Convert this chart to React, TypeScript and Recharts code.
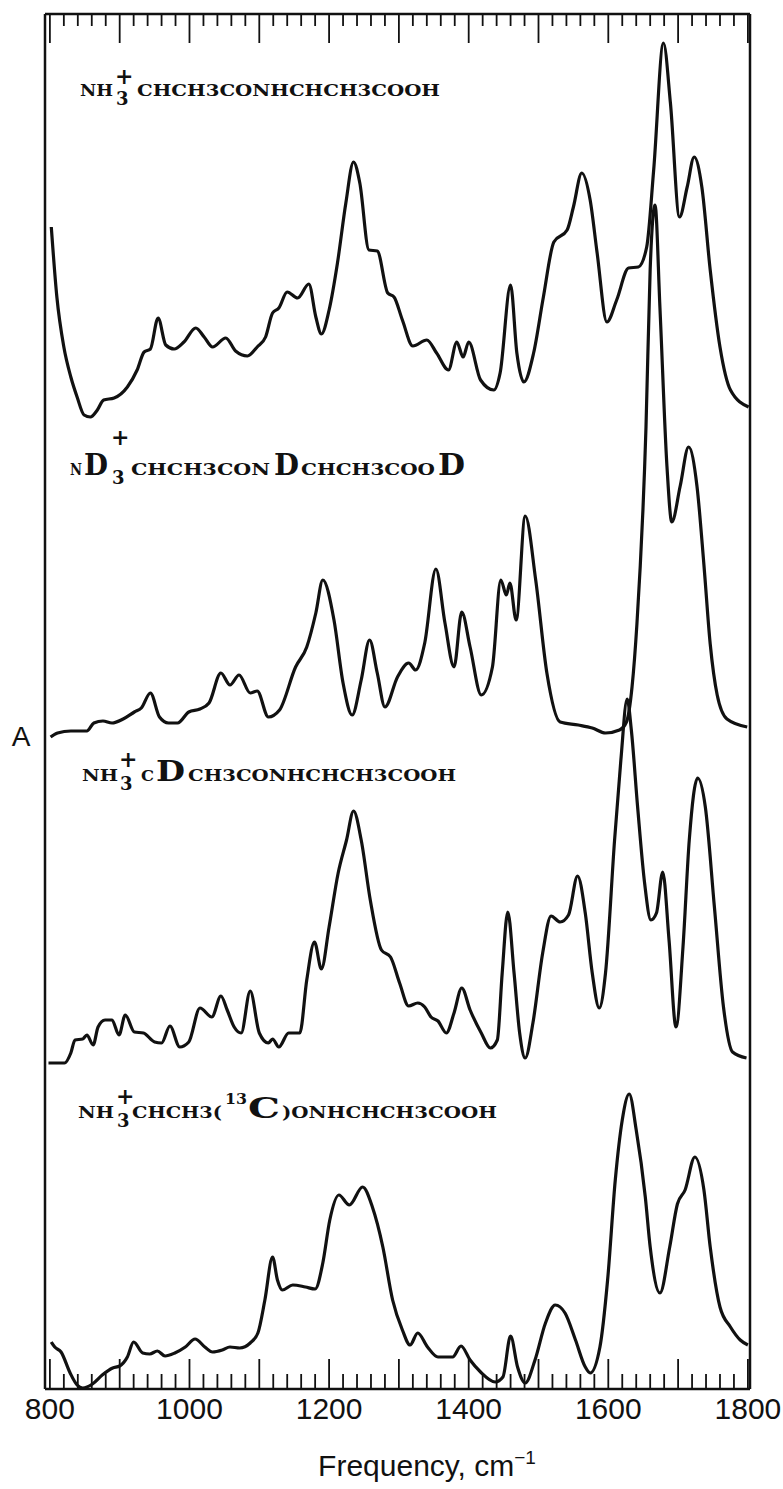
import React from 'react';
import { LineChart, Line, XAxis, YAxis } from 'recharts';

const W = 783;
const H = 1489;
const SERIF = '"DejaVu Serif", serif';
const SANS = '"Liberation Sans", Arial, sans-serif';

// wavenumber axis (cm-1)
const LABEL_TICKS = [800, 1000, 1200, 1400, 1600, 1800];
const MAJOR_TICKS = [800, 900, 1000, 1100, 1200, 1300, 1400, 1500, 1600, 1700, 1800];
const MINOR_TICKS = Array.from({ length: 51 }, (_, i) => 800 + i * 20);

// stacked absorbance, arbitrary units
// NH3+CHCH3CONHCHCH3COOH
const alaFreq = [802, 810, 820, 830, 839, 849, 858, 868, 877, 892, 911, 925, 935, 944, 955, 966, 978, 992, 1009, 1021, 1033, 1052, 1066, 1083, 1097, 1109, 1119, 1128, 1140, 1155, 1171, 1181, 1189, 1200, 1212, 1224, 1235, 1244, 1257, 1269, 1284, 1293, 1305, 1320, 1340, 1354, 1371, 1383, 1392, 1400, 1417, 1436, 1445, 1460, 1469, 1479, 1493, 1507, 1522, 1541, 1550, 1562, 1574, 1584, 1598, 1612, 1629, 1643, 1655, 1665, 1679, 1689, 1702, 1713, 1723, 1734, 1746, 1760, 1775, 1801];
const alaAbs = [11.62, 10.92, 10.42, 10.12, 9.92, 9.74, 9.72, 9.79, 9.89, 9.91, 10.02, 10.19, 10.37, 10.4, 10.71, 10.44, 10.4, 10.47, 10.61, 10.52, 10.42, 10.51, 10.38, 10.33, 10.42, 10.52, 10.76, 10.81, 10.97, 10.91, 11.05, 10.72, 10.55, 10.79, 11.26, 11.86, 12.27, 12.06, 11.39, 11.38, 10.96, 10.92, 10.69, 10.43, 10.49, 10.36, 10.19, 10.47, 10.32, 10.47, 10.09, 9.99, 10.16, 11.04, 10.36, 10.07, 10.36, 10.92, 11.47, 11.59, 11.82, 12.16, 11.89, 11.36, 10.67, 10.89, 11.21, 11.22, 11.42, 12.19, 13.46, 12.86, 11.72, 12.02, 12.32, 12.02, 11.19, 10.42, 9.99, 9.82];

// ND3+CHCH3CONDCHCH3COOD
const nd3Freq = [801, 811, 830, 853, 863, 876, 889, 905, 921, 931, 944, 957, 970, 983, 999, 1015, 1028, 1045, 1058, 1071, 1087, 1097, 1113, 1129, 1152, 1168, 1181, 1191, 1207, 1220, 1233, 1246, 1258, 1269, 1280, 1298, 1314, 1324, 1337, 1353, 1366, 1379, 1390, 1402, 1418, 1434, 1446, 1454, 1459, 1468, 1481, 1496, 1512, 1531, 1557, 1577, 1596, 1616, 1626, 1634, 1641, 1654, 1660, 1667, 1674, 1684, 1691, 1703, 1715, 1727, 1737, 1746, 1756, 1770, 1799];
const nd3Abs = [6.52, 6.56, 6.58, 6.58, 6.66, 6.68, 6.66, 6.7, 6.77, 6.81, 6.96, 6.72, 6.66, 6.66, 6.77, 6.8, 6.86, 7.16, 7.04, 7.14, 6.96, 6.98, 6.72, 6.79, 7.22, 7.42, 7.76, 8.09, 7.69, 7.06, 6.74, 7.09, 7.49, 7.16, 6.82, 7.12, 7.26, 7.19, 7.46, 8.2, 7.66, 7.22, 7.77, 7.42, 6.94, 7.22, 8.09, 7.94, 8.06, 7.69, 8.73, 8.09, 7.16, 6.67, 6.64, 6.61, 6.56, 6.59, 6.67, 7.02, 7.65, 9.62, 11.2, 11.84, 10.81, 9.23, 8.67, 9.03, 9.42, 9.03, 8.24, 7.45, 6.94, 6.7, 6.62];

// NH3+cDCH3CONHCHCH3COOH
const cdFreq = [798, 821, 830, 836, 847, 853, 862, 869, 879, 889, 899, 908, 921, 934, 950, 960, 972, 986, 999, 1015, 1032, 1045, 1054, 1064, 1074, 1087, 1100, 1113, 1119, 1128, 1142, 1158, 1168, 1179, 1189, 1200, 1213, 1225, 1235, 1246, 1259, 1275, 1288, 1301, 1314, 1327, 1337, 1346, 1356, 1368, 1379, 1390, 1402, 1418, 1431, 1441, 1448, 1456, 1465, 1473, 1481, 1492, 1506, 1518, 1531, 1543, 1556, 1567, 1577, 1587, 1596, 1609, 1618, 1627, 1633, 1642, 1652, 1661, 1669, 1678, 1687, 1697, 1707, 1716, 1728, 1739, 1752, 1765, 1778, 1798];
const cdAbs = [3.26, 3.26, 3.36, 3.49, 3.5, 3.54, 3.44, 3.62, 3.69, 3.69, 3.54, 3.74, 3.57, 3.56, 3.47, 3.46, 3.63, 3.42, 3.47, 3.81, 3.72, 3.93, 3.79, 3.62, 3.56, 3.98, 3.56, 3.46, 3.5, 3.42, 3.56, 3.56, 4.09, 4.47, 4.2, 4.62, 5.16, 5.49, 5.78, 5.49, 4.89, 4.39, 4.32, 4.06, 3.83, 3.86, 3.82, 3.72, 3.68, 3.56, 3.76, 4.01, 3.79, 3.56, 3.41, 3.49, 4.16, 4.77, 4.16, 3.56, 3.31, 3.66, 4.36, 4.73, 4.67, 4.74, 5.13, 4.76, 4.16, 3.81, 4.16, 5.49, 6.29, 6.9, 6.59, 5.82, 5.06, 4.69, 4.76, 5.17, 4.49, 3.62, 4.42, 5.49, 6.11, 5.82, 4.82, 3.82, 3.37, 3.31];

// NH3+CHCH3(13C)ONHCHCH3COOH
const c13Freq = [802, 807, 816, 829, 839, 847, 861, 875, 890, 900, 911, 920, 933, 943, 954, 965, 979, 994, 1008, 1022, 1033, 1047, 1058, 1072, 1087, 1098, 1108, 1119, 1126, 1133, 1148, 1166, 1180, 1191, 1201, 1214, 1229, 1248, 1262, 1277, 1291, 1305, 1316, 1327, 1341, 1356, 1377, 1389, 1402, 1417, 1438, 1449, 1460, 1470, 1481, 1495, 1510, 1524, 1538, 1553, 1567, 1574, 1588, 1599, 1610, 1620, 1630, 1640, 1653, 1660, 1674, 1688, 1699, 1710, 1724, 1737, 1746, 1760, 1775, 1789, 1800];
const c13Abs = [0.47, 0.42, 0.37, 0.16, 0.04, 0.01, 0.05, 0.14, 0.21, 0.23, 0.32, 0.47, 0.36, 0.35, 0.38, 0.33, 0.36, 0.42, 0.5, 0.42, 0.37, 0.39, 0.42, 0.41, 0.46, 0.56, 0.89, 1.32, 1.09, 0.99, 1.04, 1.02, 1.0, 1.26, 1.69, 1.94, 1.84, 2.02, 1.82, 1.42, 0.89, 0.59, 0.44, 0.56, 0.42, 0.32, 0.32, 0.43, 0.29, 0.17, 0.07, 0.12, 0.53, 0.22, 0.06, 0.29, 0.66, 0.84, 0.76, 0.49, 0.22, 0.16, 0.42, 1.09, 2.09, 2.69, 2.95, 2.59, 1.92, 1.42, 0.96, 1.42, 1.85, 1.99, 2.32, 1.99, 1.42, 0.82, 0.62, 0.49, 0.44];

const toPoints = (freq: number[], abs: number[]) => freq.map((f, i) => ({ f, a: abs[i] }));

const spectra = [
  { id: 'ala', data: toPoints(alaFreq, alaAbs) },
  { id: 'nd3', data: toPoints(nd3Freq, nd3Abs) },
  { id: 'cd', data: toPoints(cdFreq, cdAbs) },
  { id: 'c13', data: toPoints(c13Freq, c13Abs) },
];

const INK = '#111';
const DOMAIN: [number, number] = [793, 1803];

// ticks point into the frame; long ones every 100, labels every 200
const BottomTick = (props: any) => {
  const { x, y, payload } = props;
  const v = payload.value;
  const len = MAJOR_TICKS.includes(v) ? 30 : 15;
  return (
    <g>
      <line x1={x} x2={x} y1={y} y2={y - len} stroke={INK} strokeWidth={1.8} />
      {LABEL_TICKS.includes(v) && (
        <text x={x} y={y + 30} textAnchor="middle" fontSize={30} fontFamily={SANS} fill={INK}>{v}</text>
      )}
    </g>
  );
};

const TopTick = (props: any) => {
  const { x, y, payload } = props;
  const len = MAJOR_TICKS.includes(payload.value) ? 29 : 12;
  return <line x1={x} x2={x} y1={y} y2={y + len} stroke={INK} strokeWidth={1.8} />;
};

export default function App() {
  return (
    <div style={{ position: 'absolute', left: 0, top: 0, width: W, height: H, background: '#fff' }}>
      <LineChart width={W} height={H} margin={{ top: 13, right: 32, bottom: 99, left: 44 }}>
        <XAxis xAxisId="b" type="number" dataKey="f" domain={DOMAIN} allowDataOverflow orientation="bottom" height={1}
          ticks={MINOR_TICKS} interval={0} tick={<BottomTick />} tickLine={false} tickSize={0} tickMargin={0}
          axisLine={{ stroke: INK, strokeWidth: 2.5 }} />
        <XAxis xAxisId="t" type="number" dataKey="f" domain={DOMAIN} allowDataOverflow orientation="top" height={1}
          ticks={MINOR_TICKS} interval={0} tick={<TopTick />} tickLine={false} tickSize={0} tickMargin={0}
          axisLine={{ stroke: INK, strokeWidth: 2.5 }} />
        <YAxis yAxisId="l" type="number" domain={[0, 13.75]} allowDataOverflow width={1} tick={false} tickLine={false}
          axisLine={{ stroke: INK, strokeWidth: 2.5 }} />
        <YAxis yAxisId="r" orientation="right" type="number" domain={[0, 13.75]} allowDataOverflow width={1} tick={false}
          tickLine={false} axisLine={{ stroke: INK, strokeWidth: 2.5 }} />
        {spectra.map((s) => (
          <Line key={s.id} data={s.data} dataKey="a" xAxisId="b" yAxisId="l" type="monotone" dot={false}
            stroke={INK} strokeWidth={3.2} isAnimationActive={false} />
        ))}
      </LineChart>

      <svg width={W} height={H} style={{ position: 'absolute', left: 0, top: 0, pointerEvents: 'none' }}>
        <g fontFamily={SERIF} fontWeight="bold" fill={INK}>
          {/* NH3+ CHCH3CONHCHCH3COOH */}
          <text x={80} y={96} fontSize={17} textLength={33} lengthAdjust="spacingAndGlyphs">NH</text>
          <text x={115} y={84} fontSize={22}>+</text>
          <text x={116} y={105} fontSize={18}>3</text>
          <text x={137} y={96} fontSize={17} textLength={303} lengthAdjust="spacingAndGlyphs">CHCH3CONHCHCH3COOH</text>

          {/* ND3+ CHCH3CON D CHCH3COO D */}
          <text x={70} y={475} fontSize={16} textLength={12} lengthAdjust="spacingAndGlyphs">N</text>
          <text x={84} y={475} fontSize={30} textLength={24} lengthAdjust="spacingAndGlyphs">D</text>
          <text x={111} y={445} fontSize={22}>+</text>
          <text x={112} y={484} fontSize={18}>3</text>
          <text x={131} y={475} fontSize={17} textLength={139} lengthAdjust="spacingAndGlyphs">CHCH3CON</text>
          <text x={274} y={475} fontSize={30} textLength={25} lengthAdjust="spacingAndGlyphs">D</text>
          <text x={301} y={475} fontSize={17} textLength={134} lengthAdjust="spacingAndGlyphs">CHCH3COO</text>
          <text x={438} y={475} fontSize={30} textLength={27} lengthAdjust="spacingAndGlyphs">D</text>

          {/* NH3+ cD CH3CONHCHCH3COOH */}
          <text x={82} y={781} fontSize={17} textLength={36} lengthAdjust="spacingAndGlyphs">NH</text>
          <text x={119} y={767} fontSize={22}>+</text>
          <text x={120} y={790} fontSize={18}>3</text>
          <text x={141} y={781} fontSize={14} textLength={13} lengthAdjust="spacingAndGlyphs">C</text>
          <text x={156} y={781} fontSize={28} textLength={29} lengthAdjust="spacingAndGlyphs">D</text>
          <text x={188} y={781} fontSize={17} textLength={268} lengthAdjust="spacingAndGlyphs">CH3CONHCHCH3COOH</text>

          {/* NH3+ CHCH3(13C)ONHCHCH3COOH */}
          <text x={78} y={1118} fontSize={17} textLength={36} lengthAdjust="spacingAndGlyphs">NH</text>
          <text x={116} y={1104} fontSize={22}>+</text>
          <text x={117} y={1127} fontSize={18}>3</text>
          <text x={132} y={1118} fontSize={17} textLength={90} lengthAdjust="spacingAndGlyphs">CHCH3(</text>
          <text x={225} y={1104} fontSize={14} textLength={22} lengthAdjust="spacingAndGlyphs">13</text>
          <text x={248} y={1118} fontSize={27} textLength={32} lengthAdjust="spacingAndGlyphs">C</text>
          <text x={282} y={1118} fontSize={17} textLength={215} lengthAdjust="spacingAndGlyphs">)ONHCHCH3COOH</text>
        </g>
        <g fontFamily={SANS} fill={INK}>
          <text x={21} y={746} fontSize={28} textAnchor="middle">A</text>
          <text x={427} y={1476} fontSize={30} textAnchor="middle">
            Frequency, cm<tspan fontSize={19} dy={-12}>−1</tspan>
          </text>
        </g>
      </svg>
    </div>
  );
}
